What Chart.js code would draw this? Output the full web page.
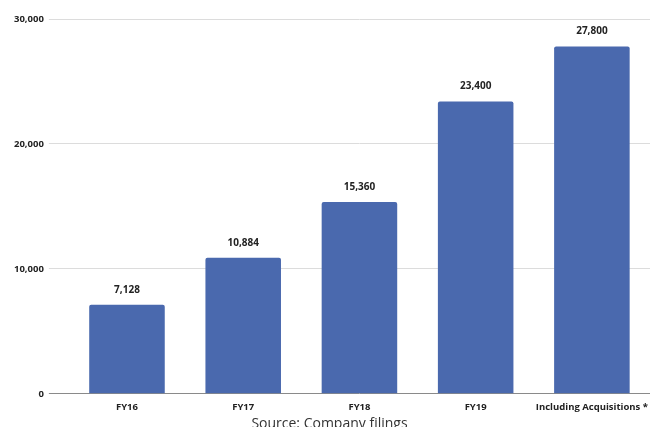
<!DOCTYPE html>
<html>
<head>
<meta charset="utf-8">
<script src="https://cdn.jsdelivr.net/npm/chart.js@4"></script>
<style>
  body { margin: 0; background: #fff; }
  #wrap { width: 658px; height: 427px; position: relative; }
</style>
</head>
<body>
<div id="wrap"><canvas id="chart"></canvas></div>
<script>
const categories = ['FY16', 'FY17', 'FY18', 'FY19', 'Including Acquisitions *'];
const values = [7128, 10884, 15360, 23400, 27800];
const yTicks = [0, 10000, 20000, 30000];

// draws the value above each bar
const barValues = {
  id: 'barValues',
  afterDatasetsDraw(chart) {
    const ctx = chart.ctx;
    const meta = chart.getDatasetMeta(0);
    ctx.save();
    ctx.font = 'bold 10px "Open Sans"';
    ctx.fillStyle = '#222';
    ctx.textAlign = 'center';
    ctx.textBaseline = 'bottom';
    meta.data.forEach((bar, i) => {
      ctx.fillText(values[i].toLocaleString('en-US'), bar.x, bar.y - 10);
    });
    ctx.restore();
  }
};

new Chart(document.getElementById('chart'), {
  type: 'bar',
  data: {
    labels: categories,
    datasets: [{
      data: values,
      backgroundColor: '#4a69ae',
      borderRadius: 2,
      borderSkipped: 'bottom',
      categoryPercentage: 1,
      barPercentage: 0.65
    }]
  },
  options: {
    responsive: true,
    maintainAspectRatio: false,
    animation: false,
    layout: { padding: { top: 19, right: 8, left: 9, bottom: 0 } },
    plugins: {
      legend: { display: false },
      tooltip: { enabled: false },
      title: {
        display: true,
        position: 'bottom',
        text: 'Source: Company filings',
        color: '#333',
        font: { family: '"Open Sans"', size: 14, weight: 'normal' },
        padding: { top: 2, bottom: -5 }
      }
    },
    scales: {
      x: {
        grid: { display: false },
        border: { display: false },
        ticks: {
          color: '#222',
          font: { family: '"Open Sans"', size: 9.5, weight: 'bold' },
          padding: 0,
          maxRotation: 0,
          autoSkip: false
        }
      },
      y: {
        min: 0,
        max: 30000,
        afterBuildTicks(axis) { axis.ticks = yTicks.map(v => ({ value: v })); },
        grid: {
          color: c => (c.tick && c.tick.value === 0 ? '#8a8a8a' : '#dcdcdc'),
          tickLength: 20,
          lineWidth: 1
        },
        border: { display: false },
        ticks: {
          color: '#222',
          font: { family: '"Open Sans"', size: 9.5, weight: 'bold' },
          padding: 5,
          callback: v => v.toLocaleString('en-US')
        }
      }
    }
  },
  plugins: [barValues]
});
</script>
</body>
</html>
